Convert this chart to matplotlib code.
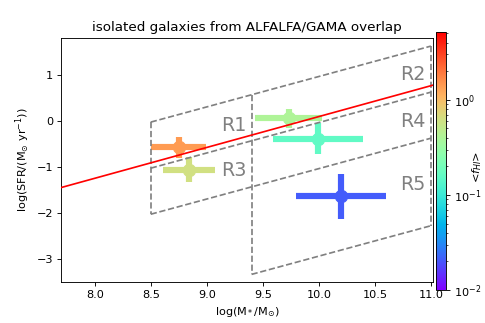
import numpy as np
import matplotlib
matplotlib.use("Agg")
import matplotlib.pyplot as plt
from matplotlib.colors import LogNorm
from matplotlib.cm import ScalarMappable

# binned isolated galaxies (stellar mass, SFR, errors, mean HI fraction)
logMstar = [8.75, 8.84, 9.73, 9.99, 10.20]
logMstar_err = [0.245, 0.235, 0.30, 0.40, 0.40]
logSFR = [-0.58, -1.06, 0.05, -0.39, -1.64]
logSFR_err = [0.22, 0.28, 0.21, 0.33, 0.49]
fHI = [1.4, 0.62, 0.40, 0.157, 0.021]

# star forming main sequence
ms_slope = 0.67
ms_intercept = -6.61

# region boundaries: parallel lines (intercepts) and mass cuts
box_slope = 0.66
line_intercepts = {'A': -5.64, 'B': -6.64, 'C': -7.64, 'D': -9.54}
mass_cuts = [8.5, 9.4, 11.0]
region_names = ['R1', 'R2', 'R3', 'R4', 'R5']
region_label_x = [9.13, 10.73, 9.13, 10.73, 10.73]
region_label_y = [-0.09, 1.02, -1.07, 0.0, -1.37]

fig = plt.figure(figsize=(6, 4), dpi=485/6)
ax = fig.add_axes([0.126, 0.127, 0.767, 0.755])
cax = fig.add_axes([0.899, 0.102, 0.021, 0.799])

norm = LogNorm(vmin=1e-2, vmax=5.2)
cmap = plt.get_cmap('rainbow')

for i in range(len(logMstar)):
    ax.errorbar(logMstar[i], logSFR[i], xerr=logMstar_err[i], yerr=logSFR_err[i],
                fmt='o', color=cmap(norm(fHI[i])), markersize=11, elinewidth=5.5,
                capsize=0, zorder=1)

def boxline(x, key):
    return box_slope*np.asarray(x) + line_intercepts[key]

gkw = dict(color='grey', linestyle='--', linewidth=1.5, zorder=2)
xs = [mass_cuts[0], mass_cuts[2]]
for key in ['A', 'B', 'C']:
    ax.plot(xs, boxline(xs, key), **gkw)
xs2 = [mass_cuts[1], mass_cuts[2]]
ax.plot(xs2, boxline(xs2, 'D'), **gkw)
ax.plot([mass_cuts[0]]*2, [boxline(mass_cuts[0], 'A'), boxline(mass_cuts[0], 'C')], **gkw)
for m in mass_cuts[1:]:
    ax.plot([m, m], [boxline(m, 'A'), boxline(m, 'D')], **gkw)

for name, tx, ty in zip(region_names, region_label_x, region_label_y):
    ax.text(tx, ty, name, color='grey', fontsize=17, ha='left', va='center')

xline = np.array([7.7, 11.02])
ax.plot(xline, ms_slope*xline + ms_intercept, color='red', linewidth=1.5, zorder=3)

ax.set_xlim(7.7, 11.02)
ax.set_ylim(-3.5, 1.8)
ax.set_xticks([8.0, 8.5, 9.0, 9.5, 10.0, 10.5, 11.0])
ax.set_yticks([-3, -2, -1, 0, 1])
ax.tick_params(labelsize=10)
ax.set_xlabel(r'log(M$_*$/M$_{\odot}$)', fontsize=10)
ax.set_ylabel(r'log(SFR/(M$_{\odot}$ yr$^{-1}$))', fontsize=10)
ax.set_title('isolated galaxies from ALFALFA/GAMA overlap', fontsize=12)

sm = ScalarMappable(norm=norm, cmap=cmap)
cb = fig.colorbar(sm, cax=cax)
cb.ax.tick_params(labelsize=10)
fig.text(0.984, 0.485, r'<$f_{HI}$>', fontsize=10, rotation=90, ha='center', va='center')

fig.savefig('out.png', dpi=485/6)
